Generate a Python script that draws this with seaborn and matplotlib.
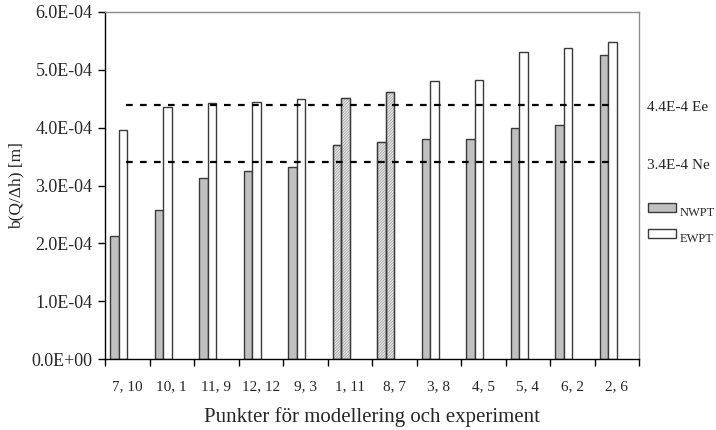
import numpy as np
import pandas as pd
import matplotlib
matplotlib.use("Agg")
import matplotlib.pyplot as plt
import matplotlib.transforms as mtransforms
from matplotlib.patches import Patch, Rectangle
from matplotlib.ticker import FuncFormatter
import seaborn as sns

# Measurement point pairs (model point, experiment point)
punkter = ["7, 10", "10, 1", "11, 9", "12, 12", "9, 3", "1, 11",
           "8, 7", "3, 8", "4, 5", "5, 4", "6, 2", "2, 6"]
# b(Q/Δh) in metres for each method
nwpt = [2.13e-4, 2.57e-4, 3.13e-4, 3.25e-4, 3.32e-4, 3.70e-4,
        3.75e-4, 3.80e-4, 3.80e-4, 4.00e-4, 4.05e-4, 5.25e-4]
ewpt = [3.96e-4, 4.35e-4, 4.42e-4, 4.45e-4, 4.49e-4, 4.51e-4,
        4.61e-4, 4.81e-4, 4.83e-4, 5.31e-4, 5.37e-4, 5.48e-4]
# Reference levels
ee_level = 4.4e-4
ne_level = 3.4e-4
ref_labels = ["4.4E-4 Ee", "3.4E-4 Ne"]
# Point pairs drawn with a hatched fill
hatched_points = ["1, 11", "8, 7"]

sns.set_style("ticks")
plt.rcParams["font.family"] = ["Liberation Serif", "DejaVu Serif"]
plt.rcParams["hatch.linewidth"] = 0.5

fig = plt.figure(figsize=(7.16, 4.3), dpi=100)
ax = fig.add_axes([105 / 716, 71 / 430, 534 / 716, 347 / 430])

df = pd.DataFrame({
    "Punkter": punkter * 2,
    "Serie": ["NWPT"] * len(punkter) + ["EWPT"] * len(punkter),
    "b": nwpt + ewpt,
})

edge = "#3a3a3a"
sns.barplot(data=df, x="Punkter", y="b", hue="Serie", order=punkter,
            hue_order=["NWPT", "EWPT", "Ee", "Ne"],
            palette=["#c0c0c0", "#ffffff", "#ffffff", "#ffffff"],
            width=0.76, dodge=True, saturation=1, errorbar=None,
            edgecolor=edge, linewidth=1.0, legend=False, ax=ax, zorder=2)

# light hatched fill for the selected point pairs, with a dark outline on top
hatch_idx = [punkter.index(p) for p in hatched_points]
series_containers = [c for c in ax.containers if len(c.patches) > 0]
for cont in series_containers:
    for i, bar in enumerate(cont.patches):
        if i in hatch_idx:
            bar.set_facecolor("#e4e4e4")
            bar.set_edgecolor("#a2a2a2")
            bar.set_hatch("////////////")
            ax.add_patch(Rectangle(bar.get_xy(), bar.get_width(),
                                   bar.get_height(), fill=False,
                                   edgecolor=edge, linewidth=1.0, zorder=2.1))

# reference levels as dashed lines
for lvl in (ee_level, ne_level):
    ax.hlines(lvl, -0.03, 10.94, colors="black", linestyles=(0, (3, 3.3)),
              linewidth=1.6, zorder=3)

trans = mtransforms.blended_transform_factory(ax.transAxes, ax.transData)
for lvl, lab in zip((ee_level, ne_level), ref_labels):
    ax.annotate(lab, xy=(1.015, lvl), xycoords=trans, xytext=(0, -2),
                textcoords="offset points", ha="left", va="center",
                fontsize=11, annotation_clip=False)

ax.set_xlim(-0.5, len(punkter) - 0.5)
ax.set_ylim(0, 6e-4)
ax.set_yticks(np.arange(0, 6.01e-4, 1e-4))
ax.yaxis.set_major_formatter(FuncFormatter(lambda v, _: f"{v:.1E}"))

ax.set_xticks(np.arange(-0.5, len(punkter), 1.0))
ax.set_xticklabels([""] * (len(punkter) + 1))
ax.set_xticks(np.arange(len(punkter)), minor=True)
ax.set_xticklabels(punkter, minor=True)
ax.tick_params(axis="x", which="major", length=5, width=1, direction="out",
               color="black", bottom=True)
ax.tick_params(axis="x", which="minor", length=0, pad=15, labelsize=11)
ax.tick_params(axis="y", which="major", length=5, width=1, direction="out",
               color="black", left=True, pad=4, labelsize=13)

ax.set_xlabel("Punkter för modellering och experiment", fontsize=15)
ax.xaxis.set_label_coords(0.5, -0.138)
ax.set_ylabel("b(Q/Δh) [m]", fontsize=12.5)
ax.yaxis.set_label_coords(-0.15, 0.5)

for side in ("left", "bottom"):
    ax.spines[side].set_color("black")
    ax.spines[side].set_linewidth(1.0)
for side in ("top", "right"):
    ax.spines[side].set_visible(True)
    ax.spines[side].set_color("#8c8c8c")
    ax.spines[side].set_linewidth(1.0)

handles = [Patch(facecolor="#c0c0c0", edgecolor=edge, linewidth=1.0),
           Patch(facecolor="#ffffff", edgecolor=edge, linewidth=1.0)]
leg = ax.legend(handles, ["NWPT", "EWPT"], loc="upper left",
                bbox_to_anchor=(648 / 716, (430 - 203) / 430),
                bbox_transform=fig.transFigure, frameon=False, fontsize=9,
                handlelength=2.2, handleheight=0.65, handletextpad=0.3,
                labelspacing=1.1, borderpad=0, borderaxespad=0)
# legend labels sit slightly below their swatches
for t in leg.get_texts():
    t.set_y(-4)

fig.savefig("out.png", dpi=100, facecolor="white")
